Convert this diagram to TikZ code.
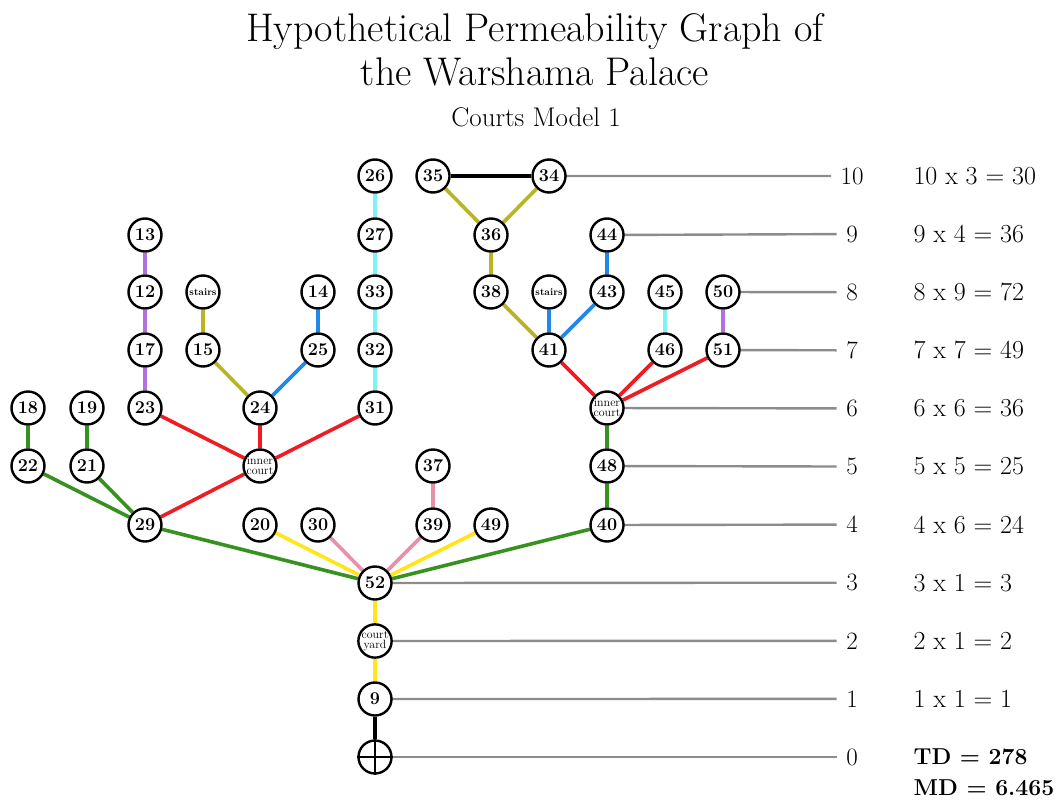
\documentclass[tikz,border=0pt]{standalone}
\usepackage{fontspec}
\usepackage{xcolor}
\usepackage{tikz}
\usetikzlibrary{backgrounds}
\definecolor{grn}{HTML}{35921F}
\definecolor{rd}{HTML}{EE1C24}
\definecolor{vio}{HTML}{B36FDD}
\definecolor{olv}{HTML}{B8B422}
\definecolor{blu}{HTML}{1F88E8}
\definecolor{cyn}{HTML}{7FF3F3}
\definecolor{ylw}{HTML}{FFE51A}
\definecolor{pnk}{HTML}{E98FA6}
\definecolor{lvgray}{HTML}{8C8C8C}

\begin{document}
\begin{tikzpicture}[
    x=1pt, y=-1pt,
    vx/.style={circle, draw=black, line width=2.4pt, fill=white, minimum size=33pt,
               inner sep=0pt, font=\bfseries\fontsize{18}{18}\selectfont},
    sm/.style={vx, font=\fontsize{12}{10}\selectfont, align=center},
    stb/.style={vx, font=\bfseries\fontsize{10}{10}\selectfont},
    edge/.style={line width=3.6pt},
    lvline/.style={draw=lvgray, line width=2.4pt},
    lvl/.style={font=\fontsize{25}{25}\selectfont},
    frm/.style={font=\fontsize{26}{26}\selectfont, anchor=west}
]
\useasboundingbox (0,0) rectangle (1062,800);

% title
\node[font=\fontsize{40}{44}\selectfont, align=center] (title) at (535,50)
    {Hypothetical Permeability Graph of\\the Warshama Palace};
\node[font=\fontsize{27}{27}\selectfont] (sub) at (536,117) {Courts Model 1};

% vertices
\node[vx] (root) at (375,757) {};
\node[vx] (n9)  at (375,699) {9};
\node[sm] (cy)  at (375,641) {court\\yard};
\node[vx] (n52) at (375,583) {52};
\node[vx] (n29) at (145,525) {29};
\node[vx] (n20) at (260,525) {20};
\node[vx] (n30) at (318,525) {30};
\node[vx] (n39) at (433,525) {39};
\node[vx] (n49) at (491,525) {49};
\node[vx] (n40) at (607,525) {40};
\node[vx] (n22) at (28,466) {22};
\node[vx] (n21) at (87,466) {21};
\node[sm] (icL) at (260,466) {inner\\court};
\node[vx] (n37) at (433,466) {37};
\node[vx] (n48) at (607,466) {48};
\node[vx] (n18) at (28,408) {18};
\node[vx] (n19) at (87,408) {19};
\node[vx] (n23) at (145,408) {23};
\node[vx] (n24) at (260,408) {24};
\node[vx] (n31) at (375,408) {31};
\node[sm] (icR) at (607,408) {inner\\court};
\node[vx] (n17) at (145,350) {17};
\node[vx] (n15) at (203,350) {15};
\node[vx] (n25) at (318,350) {25};
\node[vx] (n32) at (375,350) {32};
\node[vx] (n41) at (549,350) {41};
\node[vx] (n46) at (665,350) {46};
\node[vx] (n51) at (723,350) {51};
\node[vx] (n12) at (145,292) {12};
\node[stb] (st1) at (203,292) {stairs};
\node[vx] (n14) at (318,292) {14};
\node[vx] (n33) at (375,292) {33};
\node[vx] (n38) at (491,292) {38};
\node[stb] (st2) at (549,292) {stairs};
\node[vx] (n43) at (607,292) {43};
\node[vx] (n45) at (665,292) {45};
\node[vx] (n50) at (723,292) {50};
\node[vx] (n13) at (145,235) {13};
\node[vx] (n27) at (375,235) {27};
\node[vx] (n36) at (491,235) {36};
\node[vx] (n44) at (607,235) {44};
\node[vx] (n26) at (375,176) {26};
\node[vx] (n35) at (433,176) {35};
\node[vx] (n34) at (549,176) {34};
\draw[line width=2.4pt] (root.north) -- (root.south) (root.west) -- (root.east);

% levels
\foreach \lv/\src/\txt in {10/n34/{10 x 3 = 30}, 9/n44/{9 x 4 = 36}, 8/n50/{8 x 9 = 72},
    7/n51/{7 x 7 = 49}, 6/icR/{6 x 6 = 36}, 5/n48/{5 x 5 = 25}, 4/n40/{4 x 6 = 24},
    3/n52/{3 x 1 = 3}, 2/cy/{2 x 1 = 2}, 1/n9/{1 x 1 = 1}, 0/root/{}} {
  \node[lvl] (lv\lv) at (852,{757-58.1*\lv}) {\lv};
  \node[frm] (f\lv) at (910,{757-58.1*\lv}) {\txt};
  \begin{scope}[on background layer]
    \draw[lvline] (\src.center) -- ([xshift=-6pt]lv\lv.west);
  \end{scope}
}
\node[frm, font=\bfseries\fontsize{23}{23}\selectfont] (td) at (910,757) {TD = 278};
\node[frm, font=\bfseries\fontsize{23}{23}\selectfont] (md) at (910,788) {MD = 6.465};

% connectors
\begin{scope}[on background layer]
\draw[edge, black] (n9) -- (root) (n35) -- (n34);
\draw[edge, ylw] (n52) -- (cy) -- (n9) (n20) -- (n52) (n49) -- (n52);
\draw[edge, pnk] (n30) -- (n52) (n39) -- (n52) (n37) -- (n39);
\draw[edge, grn] (n18) -- (n22) -- (n29) (n19) -- (n21) -- (n29)
    (n29) -- (n52) -- (n40) -- (n48) -- (icR);
\draw[edge, rd] (n23) -- (icL) (n24) -- (icL) (n31) -- (icL) (icL) -- (n29)
    (n41) -- (icR) (n46) -- (icR) (n51) -- (icR);
\draw[edge, vio] (n13) -- (n12) -- (n17) -- (n23) (n50) -- (n51);
\draw[edge, olv] (st1) -- (n15) -- (n24) (n35) -- (n36) -- (n34) (n36) -- (n38) -- (n41);
\draw[edge, blu] (n14) -- (n25) -- (n24) (n44) -- (n43) -- (n41) (st2) -- (n41);
\draw[edge, cyn] (n26) -- (n27) -- (n33) -- (n32) -- (n31) (n45) -- (n46);
\end{scope}
\end{tikzpicture}
\end{document}
